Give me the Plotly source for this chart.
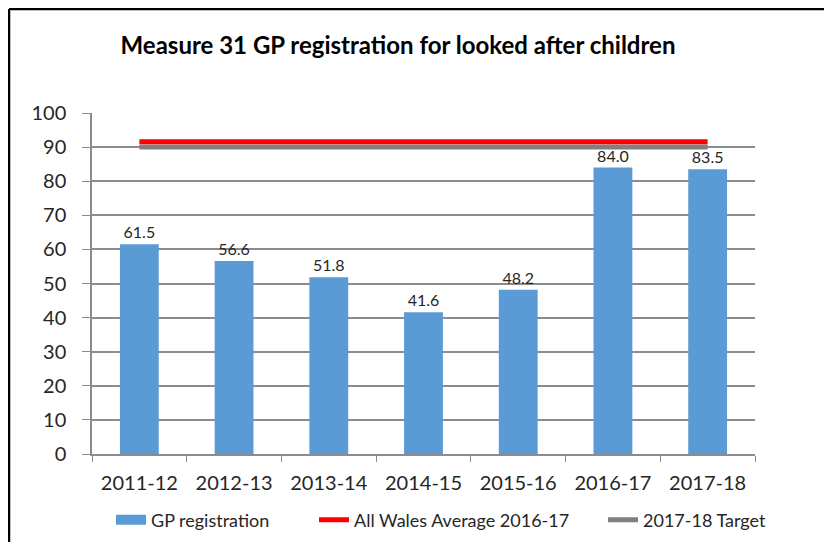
import plotly.graph_objects as go

categories = ["2011-12", "2012-13", "2013-14", "2014-15", "2015-16", "2016-17", "2017-18"]
gp_registration = [61.5, 56.6, 51.8, 41.6, 48.2, 84.0, 83.5]
wales_average = [91.6] * 7
target = [90.0] * 7
y_ticks = [0, 10, 20, 30, 40, 50, 60, 70, 80, 90, 100]

FONT = "Lato"
TXT = "#262626"
BLUE = "#5B9BD5"

fig = go.Figure()
fig.add_trace(go.Bar(
    x=categories, y=gp_registration, name="GP registration",
    marker=dict(color=BLUE, line=dict(width=0)),
    width=0.41,
    text=[f"{v:.1f}" for v in gp_registration],
    textposition="outside", cliponaxis=False,
    textfont=dict(family=FONT, size=16, color=TXT),
    showlegend=False,
))
# legend stand-in for the bar series (wide rectangle swatch as in the reference)
fig.add_trace(go.Scatter(
    x=[None], y=[None], name="GP registration", mode="lines",
    line=dict(color=BLUE, width=10), legend="legend", hoverinfo="skip",
))
fig.add_trace(go.Scatter(
    x=categories, y=target, name="2017-18 Target", mode="lines",
    line=dict(color="#808080", width=5),
    legend="legend3",
))
fig.add_trace(go.Scatter(
    x=categories, y=wales_average, name="All Wales Average 2016-17", mode="lines",
    line=dict(color="#FF0000", width=5),
    legend="legend2",
))

# page has an 8px body margin, so figure pixels = reference pixels - 8
OFF = 8
W, H = 832 - OFF, 542 - OFF
L, R, T, B = 92 - OFF, 832 - 755, 113 - OFF, 542 - 454
pw, ph = W - L - R, H - T - B
bx = (1 - L) / pw
by = (H - 1 - B) / ph
fig.add_shape(type="line", xref="paper", yref="paper", x0=bx, x1=bx, y0=-0.5, y1=by,
              line=dict(color="black", width=2.5))
fig.add_shape(type="line", xref="paper", yref="paper", x0=bx, x1=1.3, y0=by, y1=by,
              line=dict(color="black", width=2.5))

legend_font = dict(family=FONT, size=18, color=TXT)
def leg(xpix):
    return dict(orientation="h", x=xpix / W, xref="container", xanchor="left",
                y=1 - (520 - OFF) / H, yref="container", yanchor="middle",
                font=legend_font, bgcolor="rgba(0,0,0,0)")

fig.update_layout(
    width=W, height=H,
    margin=dict(l=L, r=R, t=T, b=B, autoexpand=False),
    paper_bgcolor="white", plot_bgcolor="white",
    font=dict(family=FONT, color=TXT),
    title=dict(text="<b>Measure 31 GP registration for looked after children</b>",
               x=(398 - OFF) / W, xanchor="center", y=1 - (46 - OFF) / H, yanchor="middle",
               font=dict(family=FONT, size=24, color="black")),
    showlegend=True,
    legend=leg(103),
    legend2=leg(306),
    legend3=leg(595),
    xaxis=dict(
        type="category", showgrid=False, showline=True, linecolor="#8c8c8c", linewidth=1.5,
        ticks="outside", tickson="boundaries", ticklen=6, tickcolor="#8c8c8c",
        tickfont=dict(family=FONT, size=20, color=TXT), ticklabelstandoff=10,
    ),
    yaxis=dict(
        range=[0, 100], tickvals=y_ticks, showgrid=True, gridcolor="#8c8c8c", gridwidth=1.5,
        showline=True, linecolor="#8c8c8c", linewidth=1.5, zeroline=False,
        ticks="outside", ticklen=8, tickcolor="#8c8c8c",
        tickfont=dict(family=FONT, size=20, color=TXT), ticklabelstandoff=12,
    ),
)

fig.write_html("out.html")
